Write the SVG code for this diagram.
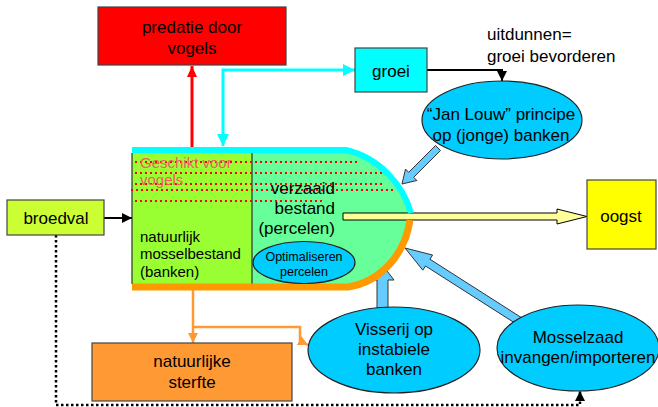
<svg xmlns="http://www.w3.org/2000/svg" width="658" height="407" viewBox="0 0 658 407">
<style>
text{font-family:"Liberation Sans",Arial,sans-serif;font-size:17px;fill:#000;text-anchor:middle}
.box{stroke:#444;stroke-width:1.2}
.ell{fill:#00CCFF;stroke:#222;stroke-width:1.2}
.blk{fill:#66CCFF;stroke:#333;stroke-width:1}
.dot{stroke:#FF0000;stroke-width:2;stroke-dasharray:2 3;fill:none}
</style>
<defs>
<marker id="mBlack" markerUnits="userSpaceOnUse" markerWidth="12" markerHeight="12" refX="10" refY="6" orient="auto"><path d="M0,1 L10,6 L0,11 Z" fill="#000"/></marker>
<marker id="mRed" markerUnits="userSpaceOnUse" markerWidth="12" markerHeight="12" refX="11" refY="6" orient="auto"><path d="M0,1 L11,6 L0,11 Z" fill="#FF0000"/></marker>
<marker id="mCyan" markerUnits="userSpaceOnUse" markerWidth="14" markerHeight="14" refX="12" refY="7" orient="auto-start-reverse"><path d="M0,1 L12,7 L0,13 Z" fill="#00FFFF"/></marker>
<marker id="mOrange" markerUnits="userSpaceOnUse" markerWidth="12" markerHeight="12" refX="10" refY="6" orient="auto"><path d="M0,1 L10,6 L0,11 Z" fill="#FF9933"/></marker>
</defs>

<g id="connectors">
<path d="M192,148 V66" stroke="#FF0000" stroke-width="3" fill="none" marker-end="url(#mRed)"/>
<path d="M223,146 V70 H355" stroke="#00FFFF" stroke-width="3" fill="none" marker-start="url(#mCyan)" marker-end="url(#mCyan)"/>
<path d="M427,70 H502 V81" stroke="#000" stroke-width="2" fill="none" marker-end="url(#mBlack)"/>
<path d="M104,218 H132" stroke="#000" stroke-width="2" fill="none" marker-end="url(#mBlack)"/>
<path d="M56,235 V405 H580 V391" stroke="#000" stroke-width="2.5" stroke-dasharray="2.5 2.5" fill="none" marker-end="url(#mBlack)"/>
<path d="M193,290 V343" stroke="#FF9933" stroke-width="2.5" fill="none" marker-end="url(#mOrange)"/>
<path d="M193,327 H300 V341 L308,345" stroke="#FF9933" stroke-width="2.5" fill="none" marker-end="url(#mOrange)"/>
<polygon class="blk" points="377,312 377,280 371,280 382.5,265 394,280 388,280 388,312"/>
<polygon class="blk" points="405,248 432.6,255 429.9,259.2 529.2,322.6 524.8,329.4 425.5,266 422.8,270.2"/>
<polygon class="blk" points="435.5,145.5 408.7,172.3 405.5,169.1 402,184 416.9,180.5 413.7,177.3 440.5,150.5"/>
</g>

<g id="mosselbestand">
<rect x="132" y="150" width="120" height="137" fill="#99FF33"/>
<path d="M252,150 H346 C380,158 403,185 411,216 C408,250 382,282 348,287 H252 Z" fill="#66FF99"/>
<path d="M132,153 V284 M252,153 V284" stroke="#333" stroke-width="1.2"/>
<polygon points="343,213 557,213 557,209 587,216.5 557,224 557,220 343,220" fill="#FFFF99" stroke="#000" stroke-width="1"/>
<path d="M132,150 H346 C380,158 403,185 411,213" stroke="#00FFFF" stroke-width="6" fill="none"/>
<path d="M132,287 H348 C380,282 405,255 410,220" stroke="#FF9900" stroke-width="7" fill="none"/>
<path class="dot" d="M135,162 H357 M135,173 H382 M135,184 H382 M131,190 H393 M135,201 H325"/>
<text x="140" y="168" style="text-anchor:start;font-size:15px;fill:#F06060">Geschikt voor</text>
<text x="140" y="185" style="text-anchor:start;font-size:15px;fill:#F06060">vogels</text>
<text x="140" y="242" style="text-anchor:start;font-size:15px">natuurlijk</text>
<text x="140" y="259" style="text-anchor:start;font-size:15px">mosselbestand</text>
<text x="140" y="277" style="text-anchor:start;font-size:15px">(banken)</text>
<text x="335" y="194" style="text-anchor:end">verzaaid</text>
<text x="335" y="214" style="text-anchor:end">bestand</text>
<text x="335" y="234" style="text-anchor:end">(percelen)</text>
</g>

<g id="optimaliseren">
<ellipse class="ell" cx="304" cy="262.5" rx="51" ry="21"/>
<text x="304" y="261" style="font-size:12.5px">Optimaliseren</text>
<text x="304" y="276" style="font-size:12.5px">percelen</text>
</g>

<g id="predatie">
<rect class="box" x="98" y="7" width="188" height="58" fill="#FF0000"/>
<text x="192" y="33">predatie door</text>
<text x="192" y="54">vogels</text>
</g>

<g id="groei">
<rect class="box" x="355" y="48" width="72" height="44" fill="#00FFFF"/>
<text x="391" y="77">groei</text>
</g>

<g id="uitdunnen">
<text x="487" y="40" style="text-anchor:start">uitdunnen=</text>
<text x="487" y="62" style="text-anchor:start">groei bevorderen</text>
</g>

<g id="janlouw">
<ellipse class="ell" cx="502" cy="120" rx="80" ry="39"/>
<text x="501" y="120">“Jan Louw” principe</text>
<text x="501" y="141">op (jonge) banken</text>
</g>

<g id="oogst">
<rect class="box" x="587" y="180" width="69" height="69" fill="#FFFF00"/>
<text x="621" y="222">oogst</text>
</g>

<g id="broedval">
<rect class="box" x="7" y="200" width="97" height="35" fill="#CCFF33"/>
<text x="56" y="224">broedval</text>
</g>

<g id="sterfte">
<rect class="box" x="92" y="343" width="200" height="58" fill="#FF9933"/>
<text x="192" y="367">natuurlijke</text>
<text x="192" y="388">sterfte</text>
</g>

<g id="visserij">
<ellipse class="ell" cx="394" cy="350" rx="86" ry="43"/>
<text x="394" y="335">Visserij op</text>
<text x="394" y="355">instabiele</text>
<text x="394" y="375">banken</text>
</g>

<g id="mosselzaad">
<ellipse class="ell" cx="578" cy="348" rx="81" ry="43"/>
<text x="578" y="343">Mosselzaad</text>
<text x="578" y="363">invangen/importeren</text>
</g>
</svg>
